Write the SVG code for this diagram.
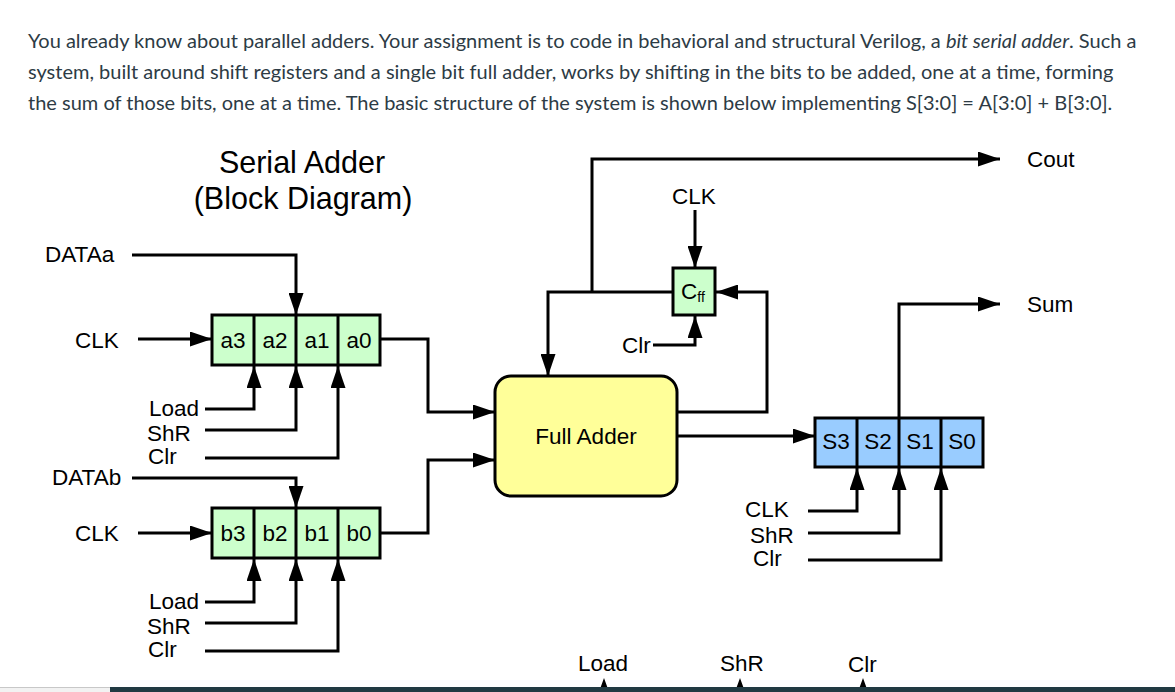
<svg xmlns="http://www.w3.org/2000/svg" width="1175" height="692" viewBox="0 0 1175 692">
<style>
.hdr{font-family:Lato,"Liberation Sans",sans-serif;font-size:20px;fill:#2d3b45}
.t{font-family:"Liberation Sans",Arial,sans-serif;font-size:22.5px;fill:#000}
.title{font-family:"Liberation Sans",Arial,sans-serif;font-size:30.5px;fill:#000}
.w{fill:none;stroke:#000;stroke-width:3}
.wa{fill:none;stroke:#000;stroke-width:3;marker-end:url(#ah)}
.box{stroke:#000;stroke-width:3}
</style>
<defs>
<marker id="ah" markerUnits="userSpaceOnUse" markerWidth="22" markerHeight="15" refX="22" refY="7.5" orient="auto">
<path d="M0,0 L22,7.5 L0,15 z" fill="#000"/>
</marker>
</defs>
<rect width="1175" height="692" fill="#fff"/>
<g id="header">
<text class="hdr" x="28" y="48">You already know about parallel adders. Your assignment is to code in behavioral and structural Verilog, a <tspan font-style="italic">bit serial adder</tspan>. Such a</text>
<text class="hdr" x="28" y="79">system, built around shift registers and a single bit full adder, works by shifting in the bits to be added, one at a time, forming</text>
<text class="hdr" x="28" y="110">the sum of those bits, one at a time. The basic structure of the system is shown below implementing S[3:0] = A[3:0] + B[3:0].</text>
</g>
<g id="title">
<text class="title" x="302" y="173" text-anchor="middle">Serial Adder</text>
<text class="title" x="303" y="209" text-anchor="middle">(Block Diagram)</text>
</g>
<g id="connectors">
<path class="wa" d="M132,255 H296 V315"/>
<path class="wa" d="M138,339 H212"/>
<path class="wa" d="M205,409 H254 V366"/>
<path class="wa" d="M205,430 H296 V366"/>
<path class="wa" d="M205,458 H338 V366"/>
<path class="wa" d="M132,478 H296 V508"/>
<path class="wa" d="M138,533 H212"/>
<path class="wa" d="M205,602 H254 V559"/>
<path class="wa" d="M205,623 H296 V559"/>
<path class="wa" d="M205,651 H338 V559"/>
<path class="wa" d="M381,339 H428 V412 H495"/>
<path class="wa" d="M381,533 H428 V460 H495"/>
<path class="wa" d="M673,292 H548 V376"/>
<path class="wa" d="M592,292 V159 H1000"/>
<path class="wa" d="M677,412 H767 V292 H716"/>
<path class="wa" d="M695,210 V268"/>
<path class="wa" d="M653,345 H695 V316"/>
<path class="wa" d="M677,436 H815"/>
<path class="wa" d="M899,418 V304 H1000"/>
<path class="wa" d="M808,511 H857 V468"/>
<path class="wa" d="M808,533 H899 V468"/>
<path class="wa" d="M808,560 H941 V468"/>
<path d="M604,678 L600,689 L608,689 z M740,678 L736,689 L744,689 z M863,678 L859,689 L867,689 z" fill="#000"/>
</g>
<g id="regA">
<rect class="box" x="212" y="315" width="168" height="50" fill="#ccffcc"/>
<path class="w" d="M254,315 V365 M296,315 V365 M338,315 V365"/>
<text class="t" x="233" y="348" text-anchor="middle">a3</text>
<text class="t" x="275" y="348" text-anchor="middle">a2</text>
<text class="t" x="317" y="348" text-anchor="middle">a1</text>
<text class="t" x="359" y="348" text-anchor="middle">a0</text>
</g>
<g id="regB">
<rect class="box" x="212" y="508" width="168" height="50" fill="#ccffcc"/>
<path class="w" d="M254,508 V558 M296,508 V558 M338,508 V558"/>
<text class="t" x="233" y="541" text-anchor="middle">b3</text>
<text class="t" x="275" y="541" text-anchor="middle">b2</text>
<text class="t" x="317" y="541" text-anchor="middle">b1</text>
<text class="t" x="359" y="541" text-anchor="middle">b0</text>
</g>
<g id="fulladder">
<rect class="box" x="495" y="376" width="182" height="120" rx="16" fill="#ffff99"/>
<text class="t" x="586" y="444" text-anchor="middle" font-size="24">Full Adder</text>
</g>
<g id="cff">
<rect class="box" x="673" y="268" width="42" height="47" fill="#ccffcc"/>
<text class="t" x="681" y="299">C<tspan font-size="14" dy="3">ff</tspan></text>
</g>
<g id="regS">
<rect class="box" x="815" y="418" width="168" height="49" fill="#99ccff"/>
<path class="w" d="M857,418 V467 M899,418 V467 M941,418 V467"/>
<text class="t" x="836" y="449" text-anchor="middle">S3</text>
<text class="t" x="878" y="449" text-anchor="middle">S2</text>
<text class="t" x="920" y="449" text-anchor="middle">S1</text>
<text class="t" x="962" y="449" text-anchor="middle">S0</text>
</g>
<g id="labels">
<text class="t" x="45" y="262">DATAa</text>
<text class="t" x="75" y="348">CLK</text>
<text class="t" x="149" y="416">Load</text>
<text class="t" x="147" y="441">ShR</text>
<text class="t" x="148" y="464">Clr</text>
<text class="t" x="52" y="485">DATAb</text>
<text class="t" x="75" y="541">CLK</text>
<text class="t" x="149" y="609">Load</text>
<text class="t" x="147" y="634">ShR</text>
<text class="t" x="148" y="657">Clr</text>
<text class="t" x="672" y="204">CLK</text>
<text class="t" x="622" y="353">Clr</text>
<text class="t" x="1027" y="167">Cout</text>
<text class="t" x="1027" y="312">Sum</text>
<text class="t" x="745" y="517">CLK</text>
<text class="t" x="750" y="543">ShR</text>
<text class="t" x="753" y="566">Clr</text>
<text class="t" x="578" y="671">Load</text>
<text class="t" x="720" y="671">ShR</text>
<text class="t" x="848" y="672">Clr</text>
</g>
<g id="bottombar">
<rect x="0" y="688" width="110" height="4" fill="#f2f2f2"/>
<rect x="0" y="687" width="110" height="1" fill="#c8c8c8"/>
<rect x="110" y="687" width="1065" height="5" fill="#213a42"/>
</g>
</svg>
